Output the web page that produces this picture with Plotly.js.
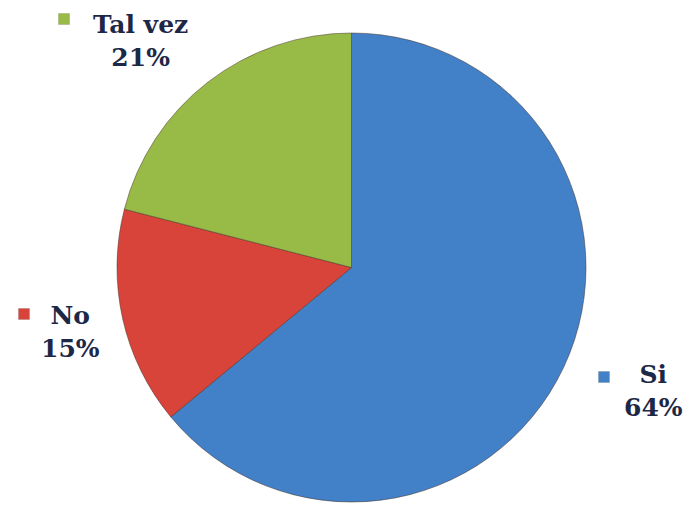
<!DOCTYPE html>
<html>
<head>
<meta charset="utf-8">
<script src="https://cdn.plot.ly/plotly-3.0.1.min.js"></script>
<style>html,body{margin:0;padding:0;background:#fff}#chart{width:690px;height:508px}</style>
</head>
<body>
<div id="chart"></div>
<script>
const categories = ["Si", "No", "Tal vez"];
const values = [64, 15, 21];
const colors = ["#4280c8", "#d8433a", "#98bb47"];
const labelPos = [
  {x: 653, y: 391, sqx: 604, sqy: 377},
  {x: 70, y: 332, sqx: 24, sqy: 314},
  {x: 140, y: 41, sqx: 64, sqy: 19}
];

const W = 690, H = 508;
const FONT = {family: "Georgia, 'DejaVu Serif', 'Liberation Serif', serif", size: 25, color: "#1d2847"};
const annotations = [];
const shapes = [];
categories.forEach((c, i) => {
  const p = labelPos[i];
  annotations.push({
    xref: "paper", yref: "paper", x: p.x / W, y: 1 - p.y / H,
    xanchor: "center", yanchor: "middle", showarrow: false, align: "center",
    text: "<b>" + c + "</b><br><b>" + values[i] + "%</b>", font: FONT
  });
  shapes.push({
    type: "rect", xref: "paper", yref: "paper",
    x0: (p.sqx - 5.5) / W, x1: (p.sqx + 5.5) / W,
    y0: 1 - (p.sqy + 5.5) / H, y1: 1 - (p.sqy - 5.5) / H,
    fillcolor: colors[i], line: {color: "rgba(60,60,60,0.35)", width: 0.5}
  });
});

const data = [{
  type: "pie",
  labels: categories,
  values: values,
  sort: false,
  direction: "clockwise",
  rotation: 0,
  textinfo: "none",
  hoverinfo: "label+percent",
  marker: {colors: colors, line: {color: "rgba(70,50,40,0.5)", width: 1}},
  domain: {x: [116 / W, 587 / W], y: [1 - 502 / H, 1 - 33 / H]}
}];

const layout = {
  width: W, height: H,
  margin: {l: 0, r: 0, t: 0, b: 0},
  paper_bgcolor: "#ffffff",
  showlegend: false,
  annotations: annotations,
  shapes: shapes
};

Plotly.newPlot("chart", data, layout, {displayModeBar: false, staticPlot: true});
</script>
</body>
</html>
